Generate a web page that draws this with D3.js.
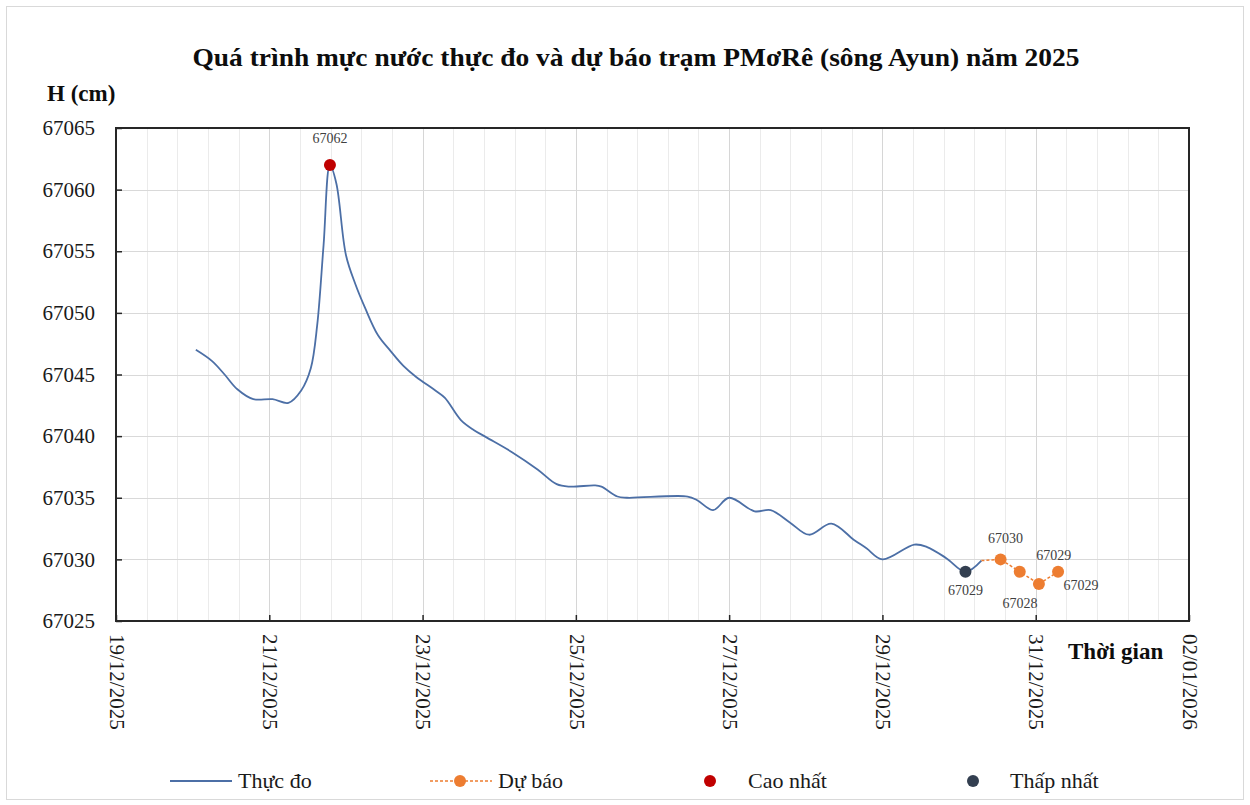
<!DOCTYPE html>
<html>
<head>
<meta charset="utf-8">
<script src="https://cdn.jsdelivr.net/npm/d3@7"></script>
<style>
  html, body { margin: 0; padding: 0; background: #fff; }
  svg { display: block; font-family: "Liberation Serif", "Times New Roman", serif; }
</style>
</head>
<body>
<svg id="chart" width="1250" height="805"></svg>
<script>
// ---------- DATA ----------
const title = "Quá trình mực nước thực đo và dự báo trạm PMơRê (sông Ayun) năm 2025";
const yTitle = "H (cm)";
const xTitle = "Thời gian";

const obsTimes = [
  "2025-12-20 01","2025-12-20 06","2025-12-20 10","2025-12-20 14","2025-12-20 19",
  "2025-12-21 01","2025-12-21 06","2025-12-21 10","2025-12-21 13","2025-12-21 15",
  "2025-12-21 17","2025-12-21 19","2025-12-21 21","2025-12-22 00","2025-12-22 03",
  "2025-12-22 06","2025-12-22 10","2025-12-22 14","2025-12-22 18","2025-12-22 22",
  "2025-12-23 04","2025-12-23 07","2025-12-23 12","2025-12-23 16","2025-12-23 20",
  "2025-12-24 04","2025-12-24 12","2025-12-24 18","2025-12-24 22","2025-12-25 06",
  "2025-12-25 08","2025-12-25 13","2025-12-25 16","2025-12-26 11","2025-12-26 14",
  "2025-12-26 19","2025-12-27 00","2025-12-27 08","2025-12-27 13","2025-12-27 19",
  "2025-12-28 01","2025-12-28 08","2025-12-28 15","2025-12-28 19","2025-12-29 00",
  "2025-12-29 10","2025-12-29 14","2025-12-29 20","2025-12-30 02","2025-12-30 07"
];
const obsValues = [
  67047.0, 67046.1, 67045.0, 67043.8, 67043.0,
  67043.0, 67042.7, 67043.7, 67045.5, 67049.0,
  67055.5, 67062.0, 67060.5, 67054.7, 67052.3,
  67050.4, 67048.2, 67046.9, 67045.7, 67044.8,
  67043.7, 67043.1, 67041.3, 67040.5, 67039.9,
  67038.7, 67037.3, 67036.1, 67035.9, 67036.0,
  67035.9, 67035.1, 67035.0, 67035.1, 67034.8,
  67034.0, 67035.0, 67033.9, 67034.0, 67033.0,
  67032.0, 67032.9, 67031.6, 67030.9, 67030.0,
  67031.2, 67031.0, 67030.1, 67029.0, 67029.9
];

const fcTimes = ["2025-12-30 07","2025-12-30 13","2025-12-30 19","2025-12-31 01","2025-12-31 07"];
const fcValues = [67029.9, 67030, 67029, 67028, 67029];
const fcMarker = [false, true, true, true, true];
const fcLabelDx = [0, 5, 34, -19, 23];
const fcLabelDy = [0, -21, -16, 19, 14];

const maxTime = "2025-12-21 19", maxValue = 67062;
const minTime = "2025-12-30 02", minValue = 67029;

const yTicks = [67025, 67030, 67035, 67040, 67045, 67050, 67055, 67060, 67065];
const xTickLabels = ["19/12/2025","21/12/2025","23/12/2025","25/12/2025","27/12/2025","29/12/2025","31/12/2025","02/01/2026"];

const legendItems = ["Thực đo", "Dự báo", "Cao nhất", "Thấp nhất"];

// ---------- COLORS ----------
const cObs = "#4c6fa6", cFc = "#ed7d31", cMax = "#c00000", cMin = "#333f50";

// ---------- SETUP ----------
const parseT = d3.timeParse("%Y-%m-%d %H");
const parseD = d3.timeParse("%d/%m/%Y");
const fmtD = d3.timeFormat("%d/%m/%Y");
const svg = d3.select("#chart");

const L = 116, R = 1189, T = 128, B = 621;
const xTickDates = xTickLabels.map(parseD);
const x = d3.scaleTime().domain([xTickDates[0], xTickDates[xTickDates.length - 1]]).range([L, R]);
const y = d3.scaleLinear().domain([yTicks[0], yTicks[yTicks.length - 1]]).range([B, T]);

// outer frame
svg.append("rect").attr("x", 6.5).attr("y", 6.5).attr("width", 1237).attr("height", 793)
  .attr("fill", "#fff").attr("stroke", "#d9d9d9").attr("stroke-width", 1);

// minor vertical grid (every 0.4 day)
const d0 = xTickDates[0].getTime(), d1 = xTickDates[xTickDates.length - 1].getTime();
const minorStep = 0.4 * 86400000;
const minor = d3.range(d0, d1 + 1, minorStep).map(t => new Date(t));
svg.append("g").selectAll("line").data(minor).join("line")
  .attr("x1", d => Math.round(x(d)) + 0.5).attr("x2", d => Math.round(x(d)) + 0.5)
  .attr("y1", T).attr("y2", B)
  .attr("stroke", "#ebebeb").attr("stroke-width", 1);

// major vertical grid
svg.append("g").selectAll("line").data(xTickDates).join("line")
  .attr("x1", d => Math.round(x(d)) + 0.5).attr("x2", d => Math.round(x(d)) + 0.5)
  .attr("y1", T).attr("y2", B)
  .attr("stroke", "#d6d6d6").attr("stroke-width", 1);

// horizontal grid
svg.append("g").selectAll("line").data(yTicks).join("line")
  .attr("x1", L).attr("x2", R)
  .attr("y1", d => Math.round(y(d)) + 0.5).attr("y2", d => Math.round(y(d)) + 0.5)
  .attr("stroke", "#d9d9d9").attr("stroke-width", 1.2);

// axes (ticks inside)
const yAxis = d3.axisLeft(y).tickValues(yTicks).tickSize(-6).tickPadding(21).tickFormat(d3.format("d"));
const gy = svg.append("g").attr("transform", `translate(${L},0)`).call(yAxis);
gy.attr("font-family", null);
gy.select(".domain").remove();
gy.selectAll(".tick line").attr("stroke", "#262626").attr("stroke-width", 1.5);
gy.selectAll(".tick text").attr("font-family", "Liberation Serif").attr("font-size", 21).attr("fill", "#1a1a1a");

const xAxis = d3.axisBottom(x).tickValues(xTickDates).tickSize(-6).tickFormat(fmtD);
const gx = svg.append("g").attr("transform", `translate(0,${B})`).call(xAxis);
gx.attr("font-family", null);
gx.select(".domain").remove();
gx.selectAll(".tick line").attr("stroke", "#262626").attr("stroke-width", 1.5);
gx.selectAll(".tick text")
  .attr("font-family", "Liberation Serif").attr("font-size", 21).attr("fill", "#1a1a1a")
  .attr("text-anchor", "start").attr("transform", "rotate(90)")
  .attr("x", 13).attr("y", 0).attr("dy", "0.32em");

// plot border
svg.append("rect").attr("x", L).attr("y", T).attr("width", R - L).attr("height", B - T)
  .attr("fill", "none").attr("stroke", "#262626").attr("stroke-width", 2);

// observed line
const obs = obsTimes.map((t, i) => ({ t: parseT(t), v: obsValues[i] }));
const line = d3.line().x(d => x(d.t)).y(d => y(d.v)).curve(d3.curveCatmullRom.alpha(0.5));
svg.append("path").datum(obs).attr("d", line)
  .attr("fill", "none").attr("stroke", cObs).attr("stroke-width", 1.8);

// forecast
const fc = fcTimes.map((t, i) => ({ t: parseT(t), v: fcValues[i], m: fcMarker[i], dx: fcLabelDx[i], dy: fcLabelDy[i] }));
svg.append("path").datum(fc).attr("d", d3.line().x(d => x(d.t)).y(d => y(d.v)))
  .attr("fill", "none").attr("stroke", cFc).attr("stroke-width", 1.5).attr("stroke-dasharray", "3,2");
svg.append("g").selectAll("circle").data(fc.filter(d => d.m)).join("circle")
  .attr("cx", d => x(d.t)).attr("cy", d => y(d.v)).attr("r", 6).attr("fill", cFc);
svg.append("g").selectAll("text").data(fc.filter(d => d.m)).join("text")
  .attr("x", d => x(d.t) + d.dx).attr("y", d => y(d.v) + d.dy)
  .attr("text-anchor", "middle").attr("dominant-baseline", "central")
  .attr("font-size", 14).attr("fill", "#404040").text(d => d.v);

// max / min markers
const mx = { t: parseT(maxTime), v: maxValue }, mn = { t: parseT(minTime), v: minValue };
svg.append("circle").attr("cx", x(mx.t)).attr("cy", y(mx.v)).attr("r", 6).attr("fill", cMax);
svg.append("text").attr("x", x(mx.t)).attr("y", y(mx.v) - 26).attr("text-anchor", "middle")
  .attr("dominant-baseline", "central").attr("font-size", 14).attr("fill", "#404040").text(mx.v);
svg.append("circle").attr("cx", x(mn.t)).attr("cy", y(mn.v)).attr("r", 6).attr("fill", cMin);
svg.append("text").attr("x", x(mn.t)).attr("y", y(mn.v) + 19).attr("text-anchor", "middle")
  .attr("dominant-baseline", "central").attr("font-size", 14).attr("fill", "#404040").text(mn.v);

// titles
svg.append("text").attr("x", 636).attr("y", 66).attr("text-anchor", "middle")
  .attr("font-size", 26).attr("font-weight", "bold").attr("fill", "#0d0d0d")
  .attr("textLength", 887).attr("lengthAdjust", "spacingAndGlyphs").text(title);
svg.append("text").attr("x", 47).attr("y", 101)
  .attr("font-size", 23).attr("font-weight", "bold").attr("fill", "#0d0d0d").text(yTitle);
svg.append("text").attr("x", 1068).attr("y", 659)
  .attr("font-size", 23).attr("font-weight", "bold").attr("fill", "#0d0d0d").text(xTitle);

// legend
const ly = 781;
const lg = svg.append("g").attr("font-size", 22).attr("fill", "#1a1a1a");
lg.append("line").attr("x1", 170).attr("x2", 232).attr("y1", ly).attr("y2", ly).attr("stroke", cObs).attr("stroke-width", 1.8);
lg.append("text").attr("x", 238).attr("y", ly).attr("dy", "0.32em").text(legendItems[0]);
lg.append("line").attr("x1", 430).attr("x2", 492).attr("y1", ly).attr("y2", ly).attr("stroke", cFc).attr("stroke-width", 1.5).attr("stroke-dasharray", "3,2");
lg.append("circle").attr("cx", 460).attr("cy", ly).attr("r", 6).attr("fill", cFc);
lg.append("text").attr("x", 498).attr("y", ly).attr("dy", "0.32em").text(legendItems[1]);
lg.append("circle").attr("cx", 710).attr("cy", ly).attr("r", 6).attr("fill", cMax);
lg.append("text").attr("x", 748).attr("y", ly).attr("dy", "0.32em").text(legendItems[2]);
lg.append("circle").attr("cx", 973).attr("cy", ly).attr("r", 6).attr("fill", cMin);
lg.append("text").attr("x", 1010).attr("y", ly).attr("dy", "0.32em").text(legendItems[3]);
</script>
</body>
</html>
